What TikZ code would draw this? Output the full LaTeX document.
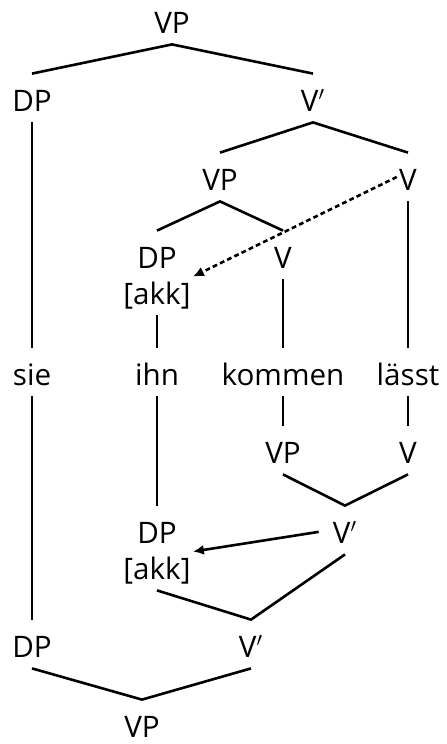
\documentclass[tikz,border=0pt]{standalone}
\usepackage{fontspec}
\setmainfont{Open Sans}
\usetikzlibrary{calc, positioning}
\usetikzlibrary{arrows.meta}
\def\lw{1.3pt}
\def\prm{$'$}
\tikzset{
    cat/.style = {
        anchor=base, inner xsep=1pt, inner ysep=5pt, text height=13.5pt, text depth=0.5pt
    },
    feat/.style = {
        anchor=base, inner xsep=1pt, inner ysep=2.5pt, text height=11pt, text depth=3pt
    },
    branch/.style = {line width=\lw},
    move/.style = {line width=\lw, -{Latex[length=5.5pt, width=5pt]}},
}

\begin{document}
\begin{tikzpicture}[x=0.5pt, y=-0.5pt, every node/.style={font=\fontsize{14.8}{18}\selectfont}]
        \useasboundingbox (0,0) rectangle (446,744);
        % Upper tree
        \node[cat] (vpTop)   at (172,33)  {VP};
        \node[cat] (dpSubj)  at (32,111)  {DP};
        \node[cat] (vbarTop) at (313,111) {V\prm};
        \node[cat] (vpEmb)   at (220,190) {VP};
        \node[cat] (vRight)  at (408,190) {V};
        \node[cat] (dpObj)   at (157,268) {DP};
        \node[feat] (akkObj) at (157,304) {[akk]};
        \node[cat] (vEmb)    at (283,268) {V};
        % Words
        \node[cat] (sie)    at (32,385)  {sie};
        \node[cat] (ihn)    at (157,385) {ihn};
        \node[cat] (kommen) at (283,385) {kommen};
        \node[cat] (laesst) at (408,385) {lässt};
        % Lower tree
        \node[cat] (vpLow)     at (283,463) {VP};
        \node[cat] (vLow)      at (408,463) {V};
        \node[cat] (vbarLow)   at (345,543) {V\prm};
        \node[cat] (dpObjLow)  at (157,543) {DP};
        \node[feat] (akkLow)   at (157,579) {[akk]};
        \node[cat] (dpSubjLow) at (32,657)  {DP};
        \node[cat] (vbarBot)   at (251,657) {V\prm};
        \node[cat] (vpBot)     at (142,737) {VP};

        % Draw branches
        \begin{scope}[branch]
            \draw (dpSubj.north) -- (vpTop.south) -- (vbarTop.north);
            \draw (vpEmb.north) -- (vbarTop.south) -- (vRight.north);
            \draw (dpObj.north) -- (vpEmb.south) -- (vEmb.north);
            \draw (dpSubj.south) -- (sie.north);
            \draw (akkObj.south) -- (ihn.north);
            \draw (vEmb.south) -- (kommen.north);
            \draw (vRight.south) -- (laesst.north);
            \draw (sie.south) -- (dpSubjLow.north);
            \draw (ihn.south) -- (dpObjLow.north);
            \draw (kommen.south) -- (vpLow.north);
            \draw (laesst.south) -- (vLow.north);
            \draw (vpLow.south) -- (vbarLow.north) -- (vLow.south);
            \draw (akkLow.south) -- (vbarBot.north) -- (vbarLow.south);
            \draw (dpSubjLow.south) -- (vpBot.north) -- (vbarBot.south);
        \end{scope}

        % Movement arrows
        \draw[move, dash pattern=on 2.4pt off 1.6pt] (vRight.west) -- (akkObj.north east);
        \draw[move, shorten <=6pt] (vbarLow.west) -- (akkLow.north east);
\end{tikzpicture}
\end{document}
